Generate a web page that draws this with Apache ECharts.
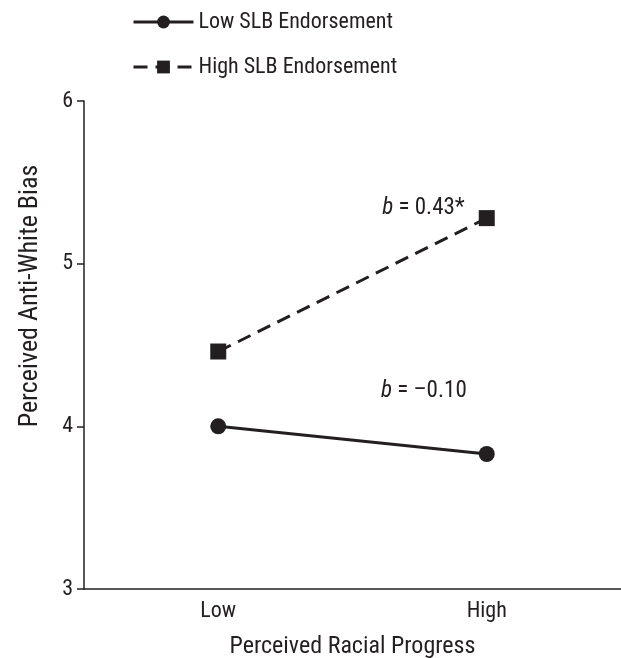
<!DOCTYPE html>
<html>
<head>
<meta charset="utf-8">
<script src="https://cdn.jsdelivr.net/npm/echarts@6/dist/echarts.min.js"></script>
<style>
html, body { margin: 0; padding: 0; background: #fff; }
#chart { width: 621px; height: 658px; }
</style>
</head>
<body>
<div id="chart"></div>
<script>
var categories = ['Low', 'High'];
var lowSLB = [4.00, 3.83];
var highSLB = [4.46, 5.28];
var yTicks = [3, 4, 5, 6];
var lowNote = '–0.10';
var highNote = '0.43*';

var ink = '#231f20';
var font = '"Liberation Sans Narrow", "Roboto Condensed", "Liberation Sans", sans-serif';

var chart = echarts.init(document.getElementById('chart'));

// label with italic b, sits up-left of the High point
function noteLabel(val, up, dist) {
    return {
        show: true,
        position: 'left',
        distance: dist,
        offset: [0, up],
        formatter: '{i|b} = ' + val,
        fontFamily: font,
        fontSize: 23,
        color: ink,
        rich: { i: { fontStyle: 'italic', fontFamily: font, fontSize: 23, color: ink } }
    };
}

var option = {
    animation: false,
    textStyle: { fontFamily: font, color: ink },
    grid: { left: 84, right: 0, top: 101, bottom: 69, containLabel: false, outerBoundsMode: 'none' },
    legend: {
        orient: 'vertical',
        left: 127,
        top: 6,
        itemWidth: 60,
        itemHeight: 16,
        itemGap: 23,
        lineStyle: { width: 3 },
        textStyle: { fontFamily: font, fontSize: 22, color: ink },
        data: ['Low SLB Endorsement', 'High SLB Endorsement']
    },
    xAxis: {
        type: 'category',
        data: categories,
        boundaryGap: true,
        name: 'Perceived Racial Progress',
        nameLocation: 'middle',
        nameGap: 46,
        nameTextStyle: { fontFamily: font, fontSize: 24, color: ink },
        axisLine: { lineStyle: { color: ink, width: 1.5 } },
        axisTick: { show: false },
        axisLabel: { fontFamily: font, fontSize: 22, color: ink, margin: 11 }
    },
    yAxis: {
        type: 'value',
        min: yTicks[0],
        max: yTicks[yTicks.length - 1],
        interval: 1,
        name: 'Perceived Anti-White Bias',
        nameLocation: 'middle',
        nameGap: 41,
        nameTextStyle: { fontFamily: font, fontSize: 26, color: ink, padding: [0, 0, 0, 98] },
        axisLine: { show: true, lineStyle: { color: ink, width: 1.5 } },
        axisTick: { show: true, length: 7, lineStyle: { color: ink, width: 1.5 } },
        axisLabel: { fontFamily: font, fontSize: 22, color: ink, margin: 11 },
        splitLine: { show: false }
    },
    series: [
        {
            name: 'Low SLB Endorsement',
            type: 'line',
            data: lowSLB.map(function (v, i) {
                return i === 1 ? { value: v, label: noteLabel(lowNote, -63, 12) } : v;
            }),
            symbol: 'circle',
            symbolSize: 16,
            lineStyle: { color: ink, width: 3 },
            itemStyle: { color: ink }
        },
        {
            name: 'High SLB Endorsement',
            type: 'line',
            data: highSLB.map(function (v, i) {
                return i === 1 ? { value: v, label: noteLabel(highNote, -10, 14) } : v;
            }),
            symbol: 'rect',
            symbolSize: 16,
            lineStyle: { color: ink, width: 3, type: [14, 8] },
            itemStyle: { color: ink }
        }
    ]
};

chart.setOption(option);
</script>
</body>
</html>
